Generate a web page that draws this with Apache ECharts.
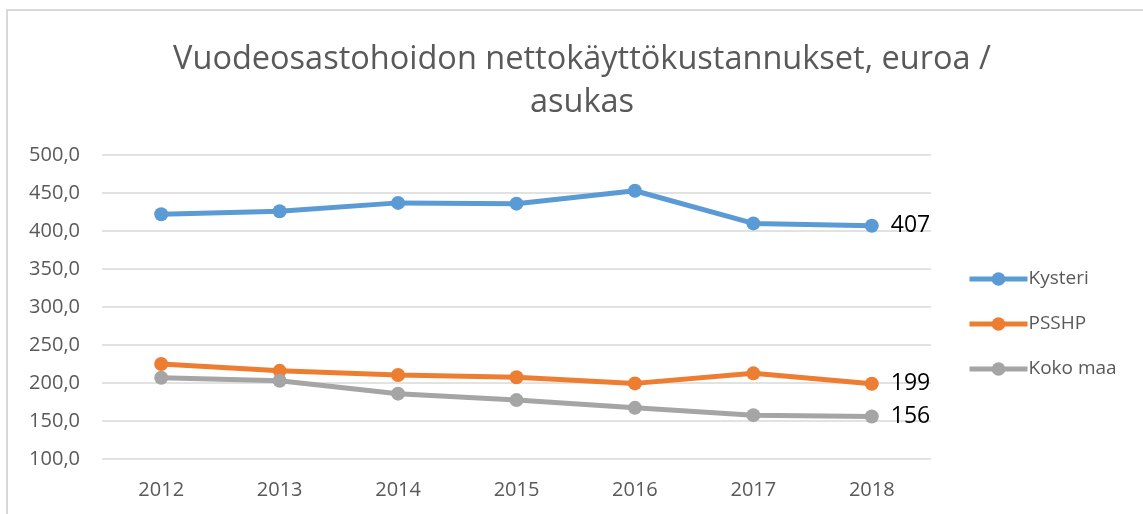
<!DOCTYPE html>
<html>
<head>
<meta charset="utf-8">
<script src="https://cdn.jsdelivr.net/npm/echarts@6/dist/echarts.min.js"></script>
<style>
  html, body { margin: 0; padding: 0; background: #fff; }
  .frame {
    position: absolute; left: 6px; top: 9px; width: 1140px; height: 510px;
    border-left: 2px solid #d9d9d9; border-top: 2px solid #d9d9d9;
  }
  .chart-size { position: absolute; left: 0; top: 0; width: 1143px; height: 514px; }
</style>
</head>
<body>
<div class="frame"></div>
<div id="main" class="chart-size"></div>
<script>
  // vuodet ja arvot (euroa / asukas)
  var years = ['2012', '2013', '2014', '2015', '2016', '2017', '2018'];
  var kysteri = [422, 426, 437, 436, 453, 410, 407];
  var psshp = [225, 216, 210.5, 207.5, 199.5, 212.7, 199];
  var kokoMaa = [207, 203, 186, 177.5, 167.3, 157.7, 156];

  var txt = '#595959';
  var font = '"Open Sans", "Noto Sans", sans-serif';

  function lastLabel(p) {
    return p.dataIndex === years.length - 1 ? Math.round(p.value) : '';
  }

  function makeSeries(name, data, color) {
    return {
      name: name,
      type: 'line',
      data: data,
      symbol: 'circle',
      symbolSize: 14,
      lineStyle: { width: 5, color: color },
      itemStyle: { color: color },
      label: {
        show: true,
        position: 'right',
        distance: 12,
        formatter: lastLabel,
        color: '#000',
        fontSize: 23,
        fontFamily: font
      }
    };
  }

  var chart = echarts.init(document.getElementById('main'));
  var option = {
    animation: false,
    title: {
      text: 'Vuodeosastohoidon nettokäyttökustannukset, euroa /\nasukas',
      left: 577,
      textAlign: 'center',
      top: 33,
      textStyle: { color: txt, fontSize: 32.5, fontWeight: 'normal', fontFamily: font, lineHeight: 43 }
    },
    legend: {
      orient: 'vertical',
      left: 962,
      top: 263,
      itemWidth: 58,
      itemHeight: 17,
      itemGap: 23,
      lineStyle: { width: 5 },
      textStyle: { color: txt, fontSize: 19, fontFamily: font, lineHeight: 22, padding: [0, 0, 0, -4] },
      data: ['Kysteri', 'PSSHP', 'Koko maa']
    },
    grid: { left: 102, top: 155, width: 829, height: 304, containLabel: false },
    xAxis: {
      type: 'category',
      data: years,
      boundaryGap: true,
      axisLine: { show: false },
      axisTick: { show: false },
      axisLabel: { color: txt, fontSize: 20, fontFamily: font, margin: 21 }
    },
    yAxis: {
      type: 'value',
      min: 100,
      max: 500,
      interval: 50,
      axisLine: { show: false },
      axisTick: { show: false },
      splitLine: { lineStyle: { color: '#d9d9d9', width: 1.5 } },
      axisLabel: {
        color: txt, fontSize: 20, fontFamily: font, margin: 22,
        formatter: function (v) { return v.toFixed(1).replace('.', ','); }
      }
    },
    series: [
      makeSeries('Kysteri', kysteri, '#5b9bd5'),
      makeSeries('PSSHP', psshp, '#ed7d31'),
      makeSeries('Koko maa', kokoMaa, '#a5a5a5')
    ]
  };
  chart.setOption(option);
</script>
</body>
</html>
